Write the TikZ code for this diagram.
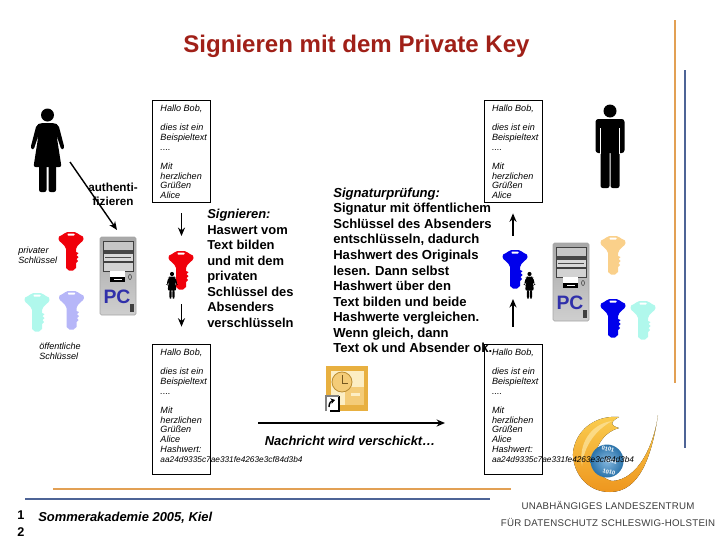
\documentclass[tikz,border=0pt]{standalone}
\usepackage{xcolor}
\usepackage{fontspec}
\setmainfont{Liberation Sans}
\usetikzlibrary{arrows.meta,positioning,calc}
\definecolor{titlered}{RGB}{160,32,24}
\definecolor{rulegold}{RGB}{226,160,84}
\definecolor{ruleblue}{RGB}{78,100,150}
\definecolor{keyred}{RGB}{240,0,10}
\definecolor{keyblue}{RGB}{0,0,235}
\definecolor{keycyan}{RGB}{176,248,236}
\definecolor{keylilac}{RGB}{182,182,248}
\definecolor{keygold}{RGB}{250,208,138}
\definecolor{pcblue}{RGB}{48,48,170}
\definecolor{logotext}{RGB}{60,60,60}
\definecolor{logoorange}{RGB}{238,150,30}
\definecolor{logoyellow}{RGB}{250,205,80}
\definecolor{logoglobe}{RGB}{50,135,200}
\definecolor{iconframe}{RGB}{232,176,64}
\definecolor{iconcream}{RGB}{252,238,196}
\definecolor{iconmail}{RGB}{244,204,120}
\newcommand{\hallotext}{Hallo Bob,\\ \mbox{}\\ dies ist ein\\ Beispieltext\\ ....\\ \mbox{}\\ Mit\\ herzlichen\\ Grüßen\\ Alice}
\newcommand{\hashtext}{\\ Hashwert:\\ \makebox[0pt][l]{\fontsize{5.9}{6.9}\selectfont aa24d9335c7ae331fe4263e3cf84d3b4}}
\newcommand{\letterbody}[2]{\parbox[c][#1][t]{1.45cm}{\leftskip=0.2cm\rightskip=0pt minus 1cm\parindent=0pt\vspace{0.12cm}#2}}
\tikzset{
  letter/.style={rectangle,draw=black,line width=0.5pt,fill=white,inner sep=0pt,
                 font=\fontsize{6.45}{6.9}\selectfont\itshape},
  tiny label/.style={align=left,anchor=north west,inner sep=0pt,
                 font=\fontsize{6.45}{7.1}\selectfont\itshape},
  body/.style={align=left,anchor=north west,inner sep=0pt,
                 font=\fontsize{9.3}{11.06}\selectfont\bfseries},
  flow/.style={-{Stealth[length=6pt,width=5pt]},line width=1pt,draw=black},
  rule/.style={line width=2pt},
  bits/.style={font=\fontsize{4}{4}\selectfont\bfseries,text=white,rotate=-15,inner sep=0pt},
  logoline/.style={font=\fontsize{6.9}{8}\selectfont\addfontfeature{LetterSpace=2.5},text=logotext,inner sep=0pt},
  pics/keyicon/.style={code={
    \fill[#1] (-3.5,0) -- (3.5,0) .. controls (6,0) and (7,2.5) .. (9,3) .. controls (12,3.5) and (12.5,5) .. (12.5,7)
      .. controls (12.5,10) and (6,12) .. (5,17) -- (5,20) -- (7.5,21) -- (5.5,23) -- (7.5,25) -- (5.5,27) -- (7,29) -- (5,31)
      -- (5,36) -- (2,38.5) -- (-2,38.5) -- (-5,36) -- (-5,17) .. controls (-6,12) and (-12.5,10) .. (-12.5,7)
      .. controls (-12.5,5) and (-12,3.5) .. (-9,3) .. controls (-7,2.5) and (-6,0) .. (-3.5,0) -- cycle;
    \fill[white,rounded corners=0.5pt] (-3.5,1.5) rectangle (3.5,3.5);
  }},
  pics/womanicon/.style={code={
    \fill (0,0) circle (6.5);
    \fill[rounded corners=1.5pt] (-7,8) -- (7,8) -- (11,10) -- (17,33) -- (14,35) -- (9,20)
      -- (14,52) -- (-14,52) -- (-9,20) -- (-14,35) -- (-17,33) -- (-11,10) -- cycle;
    \fill[rounded corners=1.5pt] (-8.5,50) rectangle (-1,77);
    \fill[rounded corners=1.5pt] (1,50) rectangle (8.5,77);
  }},
  pics/manicon/.style={code={
    \fill (0,0) circle (6.5);
    \fill[rounded corners=2pt] (-14.5,8) rectangle (14.5,42);
    \fill[rounded corners=1.5pt] (-9.5,30) rectangle (-0.5,77);
    \fill[rounded corners=1.5pt] (0.5,30) rectangle (9.5,77);
    \draw[white,line width=0.5pt] (-9.8,17) -- (-9.8,43) (9.8,17) -- (9.8,43);
  }},
  pics/pcicon/.style={code={
    \draw[gray!70,top color=gray!68,bottom color=gray!38,rounded corners=1pt] (0,0) rectangle (36,78);
    \fill[gray!45] (3,4) rectangle (33,13);
    \fill[gray!55!black] (3,13) rectangle (33,17);
    \fill[gray!30] (3,17) rectangle (33,24);
    \fill[gray!60!black] (5,20) rectangle (31,21);
    \fill[gray!50!black] (3,24) rectangle (33,26);
    \fill[gray!35] (3,26) rectangle (33,34);
    \draw[gray!50!black,line width=0.4pt] (3,4) rectangle (33,34);
    \fill[white] (10,34) rectangle (25,44);
    \fill[black] (10,40) rectangle (25,45);
    \fill[white] (14,41.5) rectangle (22,43);
    \draw[gray!50!black,line width=0.4pt] (30,40) circle (1.5 and 2.5);
    \fill[gray!50!black] (30,67) rectangle (34,75);
    \node[font=\fontsize{13.8}{14}\selectfont\bfseries,text=pcblue,inner sep=0pt] (-label) at (17,60) {PC};
  }},
}
\begin{document}
\begin{tikzpicture}[x=0.025cm,y=-0.025cm]
  \useasboundingbox (0,0) rectangle (720,540);
  % rules of the slide
  \draw[rule,rulegold] (675,20) -- (675,383);
  \draw[rule,ruleblue] (685,70) -- (685,448);
  \draw[rule,rulegold] (53,489) -- (511,489);
  \draw[rule,ruleblue] (25,499) -- (490,499);
  \node[font=\fontsize{17.1}{20}\selectfont\bfseries,text=titlered,inner sep=0pt] (title) at (356.5,46) {Signieren mit dem Private Key};
  % logo
  \fill[top color=logoyellow,bottom color=logoorange]
    (658,415) .. controls (652,455) and (640,492) .. (610,492) .. controls (585,492) and (572,470) .. (573,452)
    .. controls (576,430) and (595,415) .. (619,417) .. controls (608,423) and (612,426) .. (619,428)
    .. controls (592,435) and (586,475) .. (612,481) .. controls (638,480) and (654,445) .. (658,415) -- cycle;
  \fill[logoyellow!60!white,opacity=0.8] (612,421) .. controls (590,424) and (578,445) .. (582,466)
    .. controls (584,445) and (596,430) .. (612,421) -- cycle;
  \shade[inner color=logoglobe!60!white,outer color=logoglobe!85!black] (607,461) circle (16.5);
  \node[bits] (bitsA) at (608,449) {0101};
  \node[bits] (bitsB) at (611,461) {0011};
  \node[bits] (bitsC) at (609,472) {1010};
  \node[logoline] (logoA) at (608,505) {UNABHÄNGIGES LANDESZENTRUM};
  \node[logoline] (logoB) at (608,522) {FÜR DATENSCHUTZ SCHLESWIG-HOLSTEIN};
  % letters
  \node[letter] (letterTL) at (181.5,151) {\letterbody{2.55cm}{\hallotext}};
  \node[letter] (letterBL) at (181.5,409) {\letterbody{3.25cm}{\hallotext\hashtext}};
  \node[letter] (letterTR) at (513,151) {\letterbody{2.55cm}{\hallotext}};
  \node[letter] (letterBR) at (513,409) {\letterbody{3.25cm}{\hallotext\hashtext}};
  % keys
  \pic at (71,232) {keyicon=keyred};
  \pic at (37,293) {keyicon=keycyan};
  \pic at (71.5,291) {keyicon=keylilac};
  \pic at (181,251) {keyicon=keyred};
  \pic at (515,250) {keyicon=keyblue};
  \pic at (613,236) {keyicon=keygold};
  \pic at (613,299) {keyicon=keyblue};
  \pic at (643,301) {keyicon=keycyan};
  % people
  \pic at (47.5,115) {womanicon};
  \pic at (610,111) {manicon};
  \pic at (172,274) [scale=0.32] {womanicon};
  \pic at (529.5,274) [scale=0.32] {womanicon};
  % computers
  \pic (pcL) at (100,237) {pcicon};
  \pic (pcR) at (553,243) {pcicon};
  % mail icon
  \fill[iconframe] (326,366) rectangle (368,411);
  \fill[iconcream] (331,371) rectangle (364,405);
  \fill[iconmail] (345,387) rectangle (364,405);
  \fill[iconcream] (351,393) rectangle (360,396);
  \draw[iconframe!80!black,fill=iconmail,line width=0.6pt] (342,382) circle (10);
  \draw[iconframe!50!black,line width=0.5pt] (342,375) -- (342,383) -- (348,383);
  \fill[white] (326,396) rectangle (339,411);
  \draw[black,line width=1pt] (339,396) -- (339,411) -- (330,411);
  \draw[gray,line width=0.8pt] (326,411) -- (326,396) -- (339,396);
  \draw[-{Stealth[length=3pt,width=4pt]},line width=1pt] (329,407) .. controls (329,403) and (331,401) .. (335,400);
  % connectors
  \coordinate (authFrom) at (70,162);
  \coordinate (authTo) at (117,230);
  \coordinate (signKey) at (181.5,270);
  \coordinate (checkKey) at (513,270);
  \coordinate (sendFrom) at (258,423);
  \coordinate (sendTo) at (445,423);
  \draw[flow] (authFrom) -- (authTo);
  \draw[flow,shorten <=0.275cm,shorten >=0.85cm] (letterTL) -- (signKey);
  \draw[flow,shorten <=0.85cm,shorten >=0.425cm] (signKey) -- (letterBL);
  \draw[flow,shorten <=0.425cm,shorten >=0.725cm] (letterBR) -- (checkKey);
  \draw[flow,shorten <=0.85cm,shorten >=0.275cm] (checkKey) -- (letterTR);
  \draw[flow,line width=1.5pt] (sendFrom) -- (sendTo);
  % texts
  \node[body,font=\fontsize{8.3}{9.6}\selectfont\bfseries,align=center,anchor=center] (auth) at (113,194.5) {authenti-\\fizieren};
  \node[tiny label] (privKey) at (18,247) {privater\\Schlüssel};
  \node[tiny label] (pubKey) at (39,343) {öffentliche\\Schlüssel};
  \node[body,font=\fontsize{9.2}{11.06}\selectfont\bfseries] (signText) at (207,209) {\textit{Signieren:}\\Haswert vom\\Text bilden\\und mit dem\\privaten\\Schlüssel des\\Absenders\\verschlüsseln};
  \node[body] (checkText) at (333,187.5) {\textit{Signaturprüfung:}\\Signatur mit öffentlichem\\Schlüssel des Absenders\\entschlüsseln, dadurch\\Hashwert des Originals\\lesen. Dann selbst\\Hashwert über den\\Text bilden und beide\\Hashwerte vergleichen.\\Wenn gleich, dann\\Text ok und Absender ok.};
  \node[body,font=\fontsize{9.2}{11.06}\selectfont\bfseries,anchor=center] (sent) at (350,441) {\itshape Nachricht wird verschickt…};
  \node[body,font=\fontsize{9}{11}\selectfont\bfseries] (pageA) at (17,510) {1};
  \node[body,font=\fontsize{9}{11}\selectfont\bfseries] (pageB) at (17,527) {2};
  \node[body,font=\fontsize{9.2}{11}\selectfont\bfseries\itshape] (foot) at (38,512) {Sommerakademie 2005, Kiel};
\end{tikzpicture}
\end{document}
